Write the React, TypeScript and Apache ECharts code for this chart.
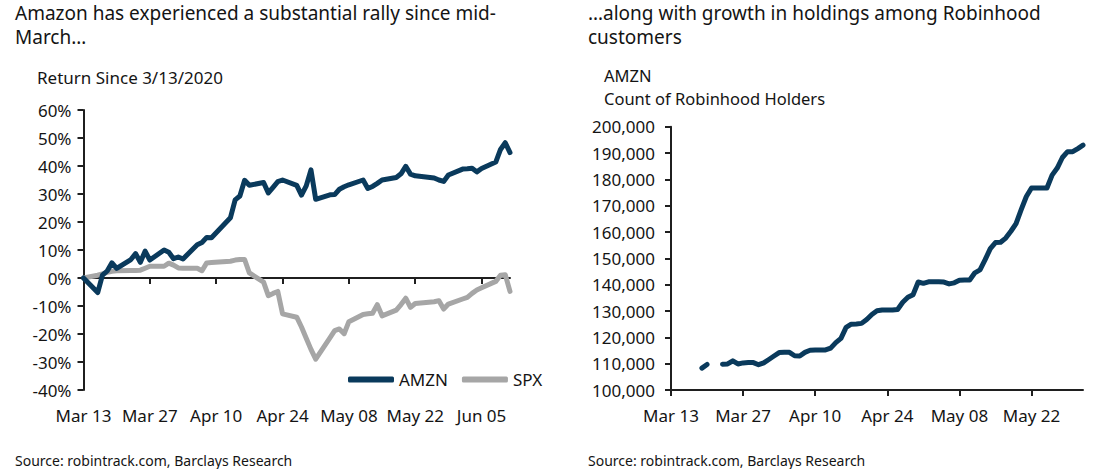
import React, { useEffect, useRef } from 'react';
import * as echarts from 'echarts';

// ---- Left chart: return since 3/13/2020 (trading days, 2020) ----
const tradeDates = [
  '03-13', '03-16', '03-17', '03-18', '03-19', '03-20', '03-23', '03-24', '03-25', '03-26', '03-27', '03-30', '03-31',
  '04-01', '04-02', '04-03', '04-06', '04-07', '04-08', '04-09', '04-13', '04-14', '04-15', '04-16', '04-17', '04-20', '04-21', '04-22', '04-23', '04-24', '04-27', '04-28', '04-29', '04-30',
  '05-01', '05-04', '05-05', '05-06', '05-07', '05-08', '05-11', '05-12', '05-13', '05-14', '05-15', '05-18', '05-19', '05-20', '05-21', '05-22', '05-26', '05-27', '05-28', '05-29',
  '06-01', '06-02', '06-03', '06-04', '06-05', '06-08', '06-09', '06-10', '06-11',
];
const amznReturn = [
  0, -5.2, 1.0, 2.5, 5.4, 3.4, 6.6, 8.7, 5.6, 9.6, 6.4, 10.0, 9.2,
  6.9, 7.5, 6.8, 11.9, 12.7, 14.5, 14.4, 21.5, 27.9, 29.3, 34.9, 33.1, 34.1, 30.4, 32.4, 34.4, 35.0, 33.1, 29.6, 32.9, 38.6,
  28.1, 29.7, 29.8, 31.7, 32.6, 33.3, 35.0, 32.0, 32.7, 33.8, 35.0, 35.9, 37.2, 39.9, 37.1, 36.5, 35.7, 35.0, 34.5, 36.8,
  38.9, 39.0, 39.2, 37.9, 39.1, 41.4, 45.9, 48.3, 44.8,
];
const spxReturn = [
  0, 1.0, 1.5, 2.0, 2.4, 2.6, 2.7, 2.7, 2.8, 3.5, 4.2, 4.2, 5.3,
  4.6, 3.6, 3.5, 3.5, 2.6, 5.4, 5.5, 6.0, 6.4, 6.6, 6.6, 1.8, -1.5, -6.3, -5.5, -4.8, -12.8, -14.0, -17.5, -21.5, -25.5,
  -29.0, -21.4, -18.8, -18.2, -19.9, -15.6, -13.0, -12.8, -12.6, -9.5, -13.5, -11.5, -9.5, -7.2, -10.5, -9.1, -8.5, -8.1, -11.1, -9.3,
  -7.5, -6.9, -5.5, -4.3, -3.5, -1.2, 1.0, 1.2, -4.8,
];
const leftTickLabels = ['Mar 13', 'Mar 27', 'Apr 10', 'Apr 24', 'May 08', 'May 22', 'Jun 05'];

// ---- Right chart: AMZN count of Robinhood holders (daily from 2020-03-19) ----
const holdersStart = '03-19';
const amznHolders = [
  108300, 109700, null, null, 109800, 109900, 111100, 109900, 110300, 110400, 110400, 109600, 110300, 111600,
  112900, 114200, 114300, 114300, 113000, 112900, 114300, 115100, 115200, 115200, 115200, 115900, 118000, 119600,
  123800, 125000, 125100, 125300, 126800, 128700, 130100, 130400, 130400, 130400, 130600, 133300, 135200, 136200,
  141000, 140500, 141100, 141100, 141100, 141000, 140300, 140700, 141700, 141800, 141800, 144500, 145600, 149500,
  153700, 156000, 156100, 157700, 160300, 163200, 168500, 173500, 176700, 176700, 176700, 176700, 181600, 184300,
  188300, 190500, 190500, 191700, 193000,
];
const rightTickLabels = ['Mar 13', 'Mar 27', 'Apr 10', 'Apr 24', 'May 08', 'May 22'];

const FONT = 'Noto Sans';
const TEXT = '#141414';
const NAVY = '#0a3a5c';
const GRAY = '#a6a6a6';
const AXIS = '#1f1f1f';

function dayOffset(md: string): number {
  const [m, d] = md.split('-').map(Number);
  return Math.round((Date.UTC(2020, m - 1, d) - Date.UTC(2020, 2, 13)) / 86400000);
}

export default function App() {
  const ref = useRef<HTMLDivElement>(null);
  useEffect(() => {
    if (!ref.current) return;
    const chart = echarts.init(ref.current, null, { renderer: 'svg' });
    const leftX = tradeDates.map(dayOffset);
    const amznData = amznReturn.map((v, i) => [leftX[i], v]);
    const spxData = spxReturn.map((v, i) => [leftX[i], v]);
    const start = dayOffset(holdersStart);
    const holdersData = amznHolders.map((v, i) => [start + i, v]);
    const leftTicks = leftTickLabels.map((_, i) => i * 14);
    const rightTicks = rightTickLabels.map((_, i) => i * 14);
    const axisLineStyle = { color: AXIS, width: 2 };
    const labelStyle = { fontFamily: FONT, fontSize: 17, color: TEXT };
    const titleText = (fontSize: number, lineHeight: number) => ({
      fontFamily: FONT, fontSize, lineHeight, fontWeight: 'normal', color: TEXT,
    });

    chart.setOption({
      animation: false,
      backgroundColor: '#ffffff',
      textStyle: { fontFamily: FONT },
      title: [
        { text: 'Amazon has experienced a substantial rally since mid-\nMarch…', left: 15, top: 1, padding: 0,
          textStyle: titleText(19, 24) },
        { text: '…along with growth in holdings among Robinhood\ncustomers', left: 588, top: 1, padding: 0,
          textStyle: titleText(19, 24) },
        { text: 'Return Since 3/13/2020', left: 37, top: 67, padding: 0,
          textStyle: titleText(17, 20) },
        { text: 'AMZN\nCount of Robinhood Holders', left: 604, top: 64, padding: 0,
          textStyle: titleText(16.5, 23) },
        { text: 'Source: robintrack.com, Barclays Research', left: 15, top: 451, padding: 0,
          textStyle: titleText(14, 18) },
        { text: 'Source: robintrack.com, Barclays Research', left: 588, top: 451, padding: 0,
          textStyle: titleText(14, 18) },
      ],
      legend: {
        left: 343, top: 366, itemWidth: 46, itemHeight: 6, itemGap: 14, icon: 'roundRect',
        textStyle: { fontFamily: FONT, fontSize: 17, color: TEXT },
        data: ['AMZN', 'SPX'],
      },
      grid: [
        { left: 83.5, top: 110, width: 426.5, height: 280 },
        { left: 671, top: 126.7, width: 412, height: 263.3 },
      ],
      xAxis: [
        { gridIndex: 0, type: 'value', min: 0, max: 90,
          axisLine: { onZero: true, lineStyle: axisLineStyle },
          axisTick: { show: true, customValues: leftTicks, length: 6, lineStyle: axisLineStyle },
          axisLabel: { show: false }, splitLine: { show: false } },
        { gridIndex: 0, type: 'value', min: 0, max: 90, position: 'bottom',
          axisLine: { show: false, onZero: false }, axisTick: { show: false }, splitLine: { show: false },
          axisLabel: { ...labelStyle, margin: 17, customValues: leftTicks,
            formatter: (v: number) => leftTickLabels[Math.round(v / 14)] ?? '' } },
        { gridIndex: 1, type: 'value', min: 0, max: 80,
          axisLine: { onZero: false, lineStyle: axisLineStyle },
          axisTick: { show: true, customValues: rightTicks, length: 6, lineStyle: axisLineStyle },
          splitLine: { show: false },
          axisLabel: { ...labelStyle, margin: 17, customValues: rightTicks,
            formatter: (v: number) => rightTickLabels[Math.round(v / 14)] ?? '' } },
      ],
      yAxis: [
        { gridIndex: 0, type: 'value', min: -40, max: 60, interval: 10,
          axisLine: { show: true, onZero: false, lineStyle: axisLineStyle },
          axisTick: { show: true, length: 6, lineStyle: axisLineStyle },
          splitLine: { show: false },
          axisLabel: { ...labelStyle, margin: 12, formatter: (v: number) => `${v}%` } },
        { gridIndex: 1, type: 'value', min: 100000, max: 200000, interval: 10000,
          axisLine: { show: true, onZero: false, lineStyle: axisLineStyle },
          axisTick: { show: true, length: 6, lineStyle: axisLineStyle },
          splitLine: { show: false },
          axisLabel: { ...labelStyle, margin: 16, formatter: (v: number) => v.toLocaleString('en-US') } },
      ],
      series: [
        { name: 'SPX', type: 'line', xAxisIndex: 0, yAxisIndex: 0, data: spxData, showSymbol: false, symbol: 'none',
          color: GRAY, lineStyle: { color: GRAY, width: 5, join: 'round', cap: 'round' }, z: 2 },
        { name: 'AMZN', type: 'line', xAxisIndex: 0, yAxisIndex: 0, data: amznData, showSymbol: false, symbol: 'none',
          color: NAVY, lineStyle: { color: NAVY, width: 5, join: 'round', cap: 'round' }, z: 3 },
        { name: 'Holders', type: 'line', xAxisIndex: 2, yAxisIndex: 1, data: holdersData, showSymbol: false, symbol: 'none',
          connectNulls: false, color: NAVY, lineStyle: { color: NAVY, width: 5, join: 'round', cap: 'round' }, z: 3 },
      ],
    });
    return () => chart.dispose();
  }, []);
  return <div ref={ref} style={{ position: 'absolute', left: 0, top: 0, width: 1102, height: 469 }} />;
}
